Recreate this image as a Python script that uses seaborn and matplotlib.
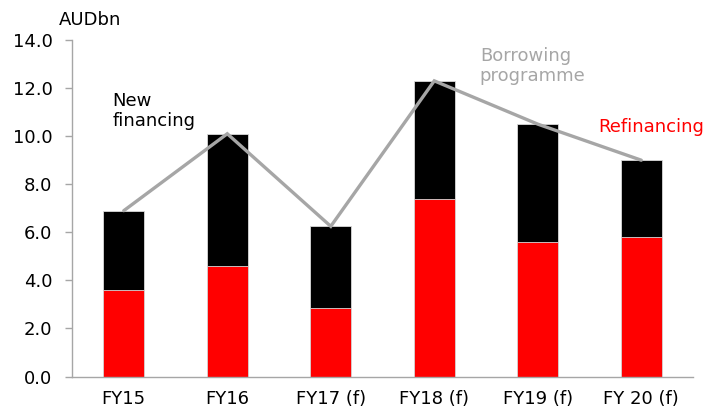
import numpy as np
import pandas as pd
import matplotlib
matplotlib.use("Agg")
import matplotlib.pyplot as plt
import seaborn as sns

# Funding data, AUD billions
years = ["FY15", "FY16", "FY17 (f)", "FY18 (f)", "FY19 (f)", "FY 20 (f)"]
refinancing = [3.6, 4.6, 2.85, 7.4, 5.6, 5.8]
new_financing = [3.3, 5.5, 3.4, 4.9, 4.9, 3.2]
borrowing_programme = [6.9, 10.1, 6.25, 12.3, 10.5, 9.0]

sns.set_theme(style="white")
plt.rcParams["font.family"] = ["DejaVu Sans"]

df = pd.DataFrame({
    "year": years,
    "refinancing": refinancing,
    "total": np.array(refinancing) + np.array(new_financing),
})

fig = plt.figure(figsize=(7.13, 4.08), dpi=100)
ax = fig.add_axes([0.101, 0.077, 0.871, 0.825])

# stacked bars: full height in black, refinancing portion in red on top
sns.barplot(data=df, x="year", y="total", color="black", width=0.4,
            edgecolor="#d9d9d9", linewidth=0.6, saturation=1, ax=ax)
sns.barplot(data=df, x="year", y="refinancing", color="#ff0000", width=0.4,
            edgecolor="#d9d9d9", linewidth=0.6, saturation=1, ax=ax)

# borrowing programme line
ax.plot(np.arange(len(years)), borrowing_programme, color="#a6a6a6",
        lw=2.4, solid_joinstyle="miter", zorder=5)

fs = 13
ax.set_xlim(-0.5, len(years) - 0.5)
ax.set_ylim(0, 14)
ax.set_yticks(np.arange(0, 14.1, 2))
ax.set_yticklabels([f"{v:.1f}" for v in np.arange(0, 14.1, 2)], fontsize=fs, color="black")
ax.set_xticks(np.arange(len(years)))
ax.set_xticklabels(years, fontsize=fs, color="black")
ax.set_xticks(np.arange(-0.5, len(years)), minor=True)
ax.tick_params(axis="x", which="major", length=0, pad=10)
ax.tick_params(axis="x", which="minor", length=5, color="#a6a6a6", width=1, direction="out")
ax.tick_params(axis="y", length=5, color="#a6a6a6", width=1, direction="out", left=True, pad=9)
ax.set_xlabel("")
ax.set_ylabel("")

for side in ["top", "right"]:
    ax.spines[side].set_visible(False)
for side in ["left", "bottom"]:
    ax.spines[side].set_color("#a6a6a6")
    ax.spines[side].set_linewidth(1)

fig.text(0.083, 0.95, "AUDbn", fontsize=fs, color="black", ha="left", va="center")
ax.text(-0.11, 11.05, "New\nfinancing", fontsize=fs, color="black",
        ha="left", va="center", linespacing=1.2)
ax.text(3.44, 12.9, "Borrowing\nprogramme", fontsize=fs, color="#a6a6a6",
        ha="left", va="center", linespacing=1.15)
ax.text(4.58, 10.38, "Refinancing", fontsize=fs, color="#ff0000",
        ha="left", va="center")

fig.savefig("out.png", dpi=100)
